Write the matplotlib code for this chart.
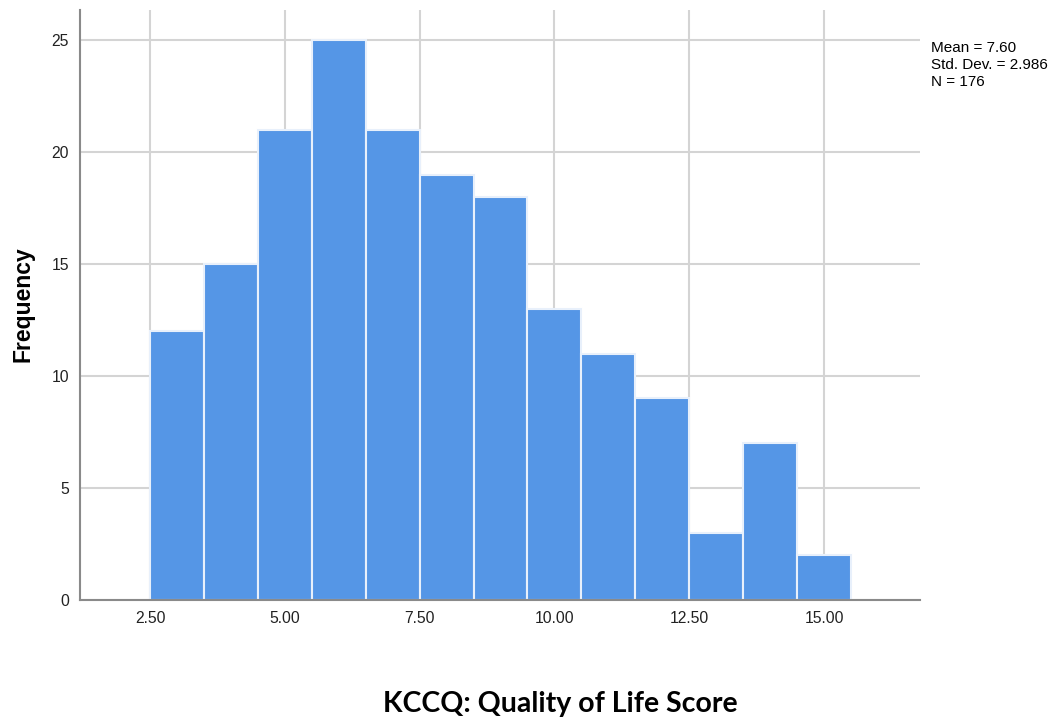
import matplotlib
matplotlib.use("Agg")
import matplotlib.pyplot as plt
import numpy as np

# histogram bins (width 1) and counts
bin_edges = [2.5, 3.5, 4.5, 5.5, 6.5, 7.5, 8.5, 9.5, 10.5, 11.5, 12.5, 13.5, 14.5, 15.5]
counts = [12, 15, 21, 25, 21, 19, 18, 13, 11, 9, 3, 7, 2]
x_ticks = [2.5, 5.0, 7.5, 10.0, 12.5, 15.0]
x_tick_labels = ["2.50", "5.00", "7.50", "10.00", "12.50", "15.00"]
y_ticks = [0, 5, 10, 15, 20, 25]
stats_text = "Mean = 7.60\nStd. Dev. = 2.986\nN = 176"

plt.rcParams["font.family"] = ["Liberation Sans", "DejaVu Sans"]

fig = plt.figure(figsize=(10.56, 7.21), dpi=100)
ax = fig.add_axes([80 / 1056, 1 - 600 / 721, 840 / 1056, 590 / 721])

lefts = np.array(bin_edges[:-1])
widths = np.diff(bin_edges)
ax.bar(lefts, counts, width=widths, align="edge", color="#5596e6",
       edgecolor="#e8f0fb", linewidth=1.5, zorder=3)

ax.set_xlim(1.2, 16.78)
ax.set_ylim(0, 26.35)
ax.set_xticks(x_ticks)
ax.set_xticklabels(x_tick_labels)
ax.set_yticks(y_ticks)
ax.tick_params(length=0, labelsize=11.3, colors="#222222", pad=8)

ax.grid(True, color="#d4d4d4", linewidth=1.5, zorder=0)
for s in ["top", "right"]:
    ax.spines[s].set_visible(False)
for s in ["left", "bottom"]:
    ax.spines[s].set_color("#8a8a8a")
    ax.spines[s].set_linewidth(1.5)
    ax.spines[s].set_zorder(4)

fig.text(23 / 1056, 1 - 304 / 721, "Frequency", rotation=90, ha="center",
         va="center", fontsize=16.5, fontweight="bold")
fig.text(560 / 1056, 1 - 704 / 721, "KCCQ: Quality of Life Score",
         ha="center", va="center", fontsize=20.5, fontweight="bold",
         family=["Lato", "DejaVu Sans"])
fig.text(931 / 1056, 1 - 41 / 721, stats_text, ha="left", va="top",
         fontsize=11, linespacing=1.25)

fig.savefig("out.png", dpi=100)
